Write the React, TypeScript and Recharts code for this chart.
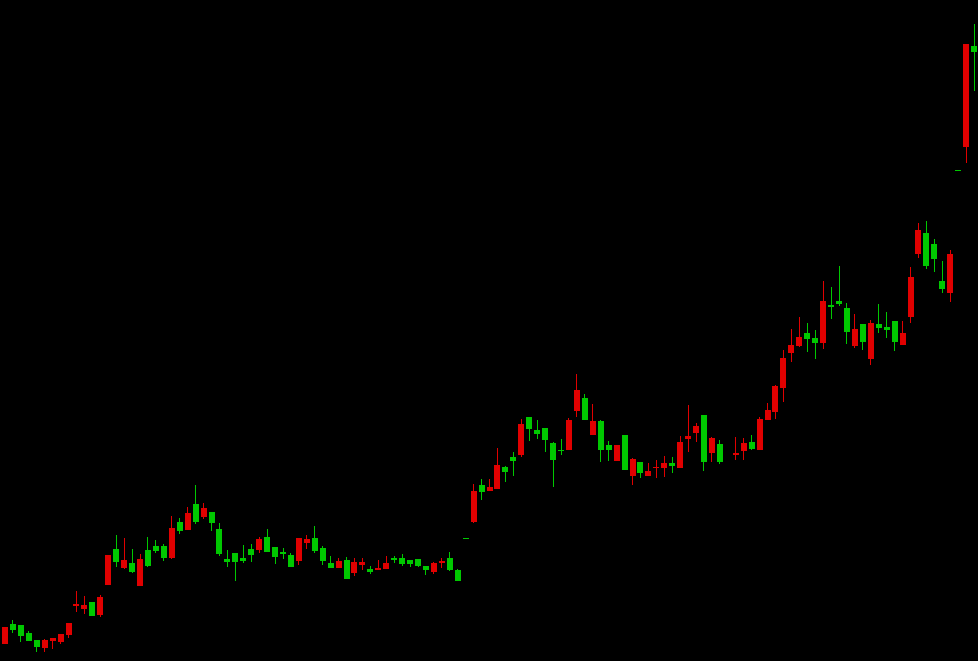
import { ComposedChart, Bar, XAxis, YAxis } from 'recharts'

const UP = '#e00000'
const DOWN = '#00c800'

// price units (no axis shown); null = no trading that day
const opens = [
  17, 37, 36, 28, 21, 13, 20, 19, 26, 55, 52, 59, 46, 76, 112, 93, 98, 75, 111, 115,
  115, 103, 139, 131, 157, 144, 149, 132, 102, 108, 103, 112, 111, 124, 114, 109, 106, 100, 118, 123,
  113, 98, 93, 101, 88, 96, 92, 91, 92, 103, 103, 101, 102, 95, 89, 98, 103, 91, 123, 139,
  176, 170, 172, 194, 204, 206, 244, 231, 233, 218, 211, 211, 250, 263, 226, 240, 216, 200, 226, 185,
  199, 185, 193, 193, 198, 193, 222, 228, 246, 208, 217, null, 206, 210, 219, 211, 241, 249, 273, 308,
  315, 328, 323, 318, 356, 360, 353, 315, 337, 302, 337, 334, 340, 316, 344, 407, 428, 417, 380, 368,
  491, 514, 615,
]
const highs = [
  34, 41, 36, 30, 21, 22, 23, 27, 38, 70, 65, 59, 66, 106, 126, 123, 112, 107, 124, 121,
  117, 145, 143, 154, 176, 158, 149, 138, 111, 108, 116, 117, 124, 132, 114, 113, 108, 123, 126, 135,
  115, 105, 103, 104, 103, 103, 95, 101, 105, 105, 107, 101, 102, 95, 99, 103, 109, 92, 123, 177,
  182, 182, 213, 195, 209, 242, 244, 241, 233, 219, 222, 243, 287, 267, 257, 241, 220, 216, 226, 203,
  199, 198, 201, 205, 204, 225, 256, 238, 246, 224, 221, null, 224, 223, 226, 244, 258, 276, 311, 332,
  344, 338, 331, 380, 374, 395, 358, 347, 337, 341, 357, 349, 340, 340, 394, 438, 440, 422, 400, 411,
  491, 617, 637,
]
const lows = [
  17, 28, 19, 20, 9, 9, 12, 17, 23, 49, 47, 45, 44, 76, 94, 92, 88, 75, 94, 108,
  100, 102, 127, 131, 137, 142, 130, 105, 94, 80, 98, 99, 108, 109, 97, 102, 94, 96, 112, 108,
  96, 93, 93, 82, 85, 91, 87, 91, 92, 98, 95, 94, 94, 86, 87, 93, 90, 80, 123, 138,
  161, 170, 172, 179, 185, 204, 220, 222, 209, 174, 206, 211, 244, 241, 226, 199, 200, 200, 191, 176,
  183, 185, 183, 184, 188, 193, 209, 219, 190, 199, 197, null, 201, 201, 211, 211, 241, 242, 259, 299,
  314, 309, 302, 312, 342, 355, 317, 313, 311, 296, 328, 323, 310, 316, 338, 403, 392, 389, 368, 359,
  491, 498, 570,
]
const closes = [
  34, 31, 25, 20, 14, 21, 23, 27, 38, 57, 56, 45, 64, 106, 99, 101, 89, 102, 95, 110,
  103, 133, 130, 148, 139, 153, 138, 107, 99, 99, 100, 106, 122, 109, 104, 107, 94, 123, 122, 110,
  100, 93, 100, 82, 99, 99, 89, 93, 98, 101, 97, 97, 95, 91, 98, 100, 91, 80, 123, 170,
  169, 174, 196, 189, 200, 237, 232, 227, 221, 201, 210, 241, 271, 241, 240, 211, 211, 216, 191, 202,
  188, 190, 194, 198, 195, 219, 225, 235, 199, 223, 199, null, 208, 218, 212, 242, 251, 275, 303, 316,
  324, 322, 318, 360, 354, 357, 329, 332, 319, 338, 333, 331, 319, 328, 384, 431, 395, 402, 372, 407,
  491, 617, 609,
]

const data = opens.map((open, i) => ({
  day: i + 1,
  open,
  high: highs[i],
  low: lows[i],
  close: closes[i],
}))

function Candle(props: any) {
  const { x, y, width, height, payload } = props
  if (payload.open == null) return null
  const { open, high, low, close } = payload
  const color = close > open ? UP : DOWN
  const top = Math.min(y, y + height)
  const h = Math.abs(height)
  const range = high - low
  const toY = (v: number) => (range === 0 ? top : top + ((high - v) / range) * h)
  const bodyTop = toY(Math.max(open, close))
  const bodyBottom = toY(Math.min(open, close))
  const left = Math.round(x)
  const mid = Math.round(x + width / 2 - 0.5)
  return (
    <g shapeRendering="crispEdges">
      <rect x={mid} y={top} width={1} height={Math.max(h, 1)} fill={color} />
      <rect
        x={left}
        y={bodyTop}
        width={Math.round(width)}
        height={Math.max(bodyBottom - bodyTop, 1)}
        fill={color}
      />
    </g>
  )
}

export default function App() {
  return (
    <div
      style={{
        position: 'absolute',
        left: 0,
        top: 0,
        width: 978,
        height: 661,
        background: '#000',
      }}
    >
      <ComposedChart
        width={978}
        height={661}
        data={data}
        margin={{ top: 0, right: 0, bottom: 0, left: 1 }}
      >
        <XAxis dataKey="day" type="category" hide />
        <YAxis type="number" domain={[0, 661]} hide />
        <Bar
          dataKey={(d: any) => (d.open == null ? null : [d.low, d.high])}
          barSize={6}
          shape={Candle}
          isAnimationActive={false}
        />
      </ComposedChart>
    </div>
  )
}
